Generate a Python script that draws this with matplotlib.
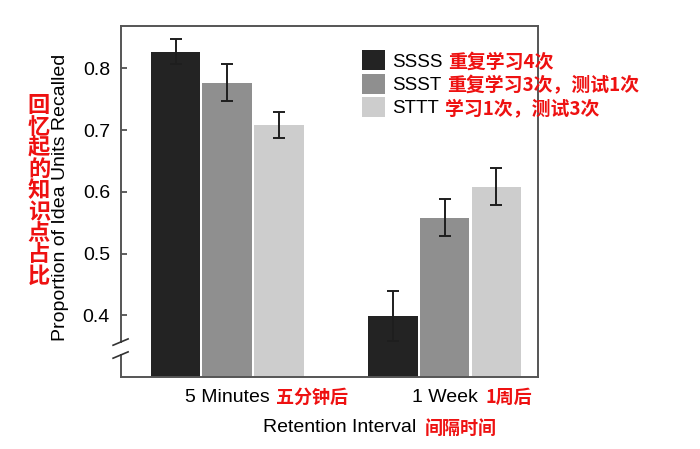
import matplotlib
matplotlib.use("Agg")
import matplotlib.pyplot as plt
import numpy as np

plt.rcParams['font.family'] = ['Liberation Sans', 'Noto Sans CJK SC', 'DejaVu Sans']

groups = ["5 Minutes", "1 Week"]
groups_cn = ["五分钟后", "1周后"]
series = ["SSSS", "SSST", "STTT"]
series_cn = ["重复学习4次", "重复学习3次，测试1次", "学习1次，测试3次"]
values = {
    "SSSS": [0.827, 0.399],
    "SSST": [0.777, 0.558],
    "STTT": [0.708, 0.608],
}
errors = {
    "SSSS": [0.020, 0.040],
    "SSST": [0.030, 0.030],
    "STTT": [0.021, 0.030],
}
colors = ["#232323", "#8f8f8f", "#cdcdcd"]
yticks = [0.4, 0.5, 0.6, 0.7, 0.8]
ylabel = "Proportion of Idea Units Recalled"
ylabel_cn = "回忆起的知识点占比"
xlabel = "Retention Interval"
xlabel_cn = "间隔时间"

RED = "#ee1111"
CJK = ['Noto Sans CJK SC', 'DejaVu Sans']
W, H = 700, 449

fig = plt.figure(figsize=(7, 4.49), dpi=100)
ax = fig.add_axes([121/W, 1-377/H, 417/W, 351.3/H])

x = np.arange(len(groups))
step = 0.238
width = 0.228
for i, s in enumerate(series):
    ax.bar(x + (i-1)*step, values[s], width, bottom=0, color=colors[i],
           edgecolor='none', label=s, zorder=2)
    ax.errorbar(x + (i-1)*step, values[s], yerr=errors[s], fmt='none',
                ecolor='#1e1e1e', elinewidth=1.4, capsize=4.5, capthick=1.4, zorder=3)

ax.set_ylim(0.3, 0.869)
ax.set_xlim(-0.489, 1.430)
ax.set_yticks(yticks)
ax.set_yticklabels([f"{t:.1f}" for t in yticks], fontsize=14)
ax.set_xticks(x)
ax.set_xticklabels(groups, fontsize=14)
ax.tick_params(axis='y', direction='in', length=4, width=1.1, color='#333333', pad=8)
ax.tick_params(axis='x', length=0, pad=9)
for sp in ax.spines.values():
    sp.set_color('#555555')
    sp.set_linewidth(1.4)

# Chinese group labels
cn_x = [0.224, 1.187]
for gx, t in zip(cn_x, groups_cn):
    ax.text(gx, -0.058, t, transform=ax.get_xaxis_transform(), ha='left', va='center',
            color=RED, fontsize=13, fontweight='bold', family=CJK, clip_on=False)

# axis break marks
ya, yb = 0.0625, 0.0994
ax.plot([0, 0], [ya + 0.004, yb - 0.004], transform=ax.transAxes, color='white',
        lw=3, clip_on=False, zorder=5, solid_capstyle='butt')
for yy in (ya, yb):
    ax.plot([-0.019, 0.017], [yy - 0.009, yy + 0.009], transform=ax.transAxes,
            color='#333333', lw=1.2, clip_on=False, zorder=6)

# legend
leg = ax.legend(loc='upper left', bbox_to_anchor=(0.578, 0.93), frameon=False,
                fontsize=13.5, handlelength=1.2, handleheight=1.25,
                handletextpad=0.4, labelspacing=0.17, borderpad=0, borderaxespad=0)

# axis labels
fig.text(61/W, 1-197/H, ylabel, rotation=90, ha='center', va='center', fontsize=14)
for k, ch in enumerate(ylabel_cn):
    fig.text(39/W, 1-(105.7 + k*21.3)/H, ch, ha='center', va='center',
             color=RED, fontsize=16, fontweight='bold', family=CJK)

fig.text(339.5/W, 1-428/H, xlabel, ha='center', va='center', fontsize=14)
fig.text(425/W, 1-428/H, xlabel_cn, ha='left', va='center', color=RED,
         fontsize=13, fontweight='bold', family=CJK)

# place red legend annotations after layout is known
fig.canvas.draw()
for txt, cn in zip(leg.get_texts(), series_cn):
    bb = txt.get_window_extent()
    fig.text((bb.x1 + 6)/W, (bb.y0 + bb.y1)/2/H, cn, ha='left', va='center',
             color=RED, fontsize=13.6, fontweight='bold', family=CJK)

fig.savefig("out.png", dpi=100)
